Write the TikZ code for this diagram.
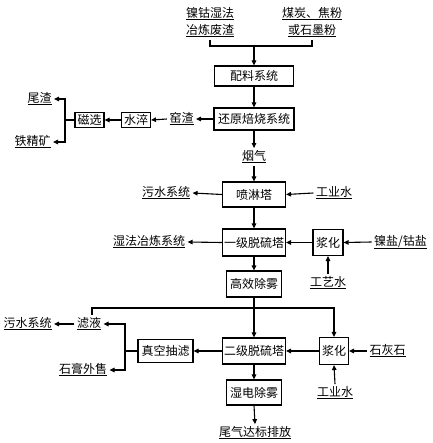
\documentclass[tikz,border=0pt]{standalone}
\usepackage{fontspec}
\setmainfont{Noto Sans CJK SC}
\usetikzlibrary{arrows.meta}
\newcommand\myul[1]{\leavevmode\setbox0=\hbox{#1}\hbox{\rlap{\vrule height -\dimexpr\dp0+0.6pt\relax depth \dimexpr\dp0+1.6pt\relax width \wd0}\box0}}
\begin{document}
\begin{tikzpicture}[x=1pt,y=-1pt,
  font=\fontsize{12}{17}\selectfont,
  line width=1.1pt,
  box/.style={draw,line width=1.1pt,inner sep=0pt,minimum height=#1},
  box/.default=24pt,
  lbl/.style={inner sep=2pt,align=center},
  arr/.style={-{Triangle[length=5pt,width=4.5pt]}}]
\useasboundingbox (0,0) rectangle (432,443);
% boxes
\node[box=20pt,minimum width=79pt] (pl) at (254,76) {配料系统};
\node[box=22pt,minimum width=80pt] (hy) at (254,119) {还原焙烧系统};
\node[box=15pt,minimum width=29pt] (sc) at (136,120) {水淬};
\node[box=15pt,minimum width=29pt] (cx) at (89.5,120) {磁选};
\node[box=25pt,minimum width=63pt] (pt) at (254,194.5) {喷淋塔};
\node[box=27pt,minimum width=63pt] (yj) at (254,242.5) {一级脱硫塔};
\node[box=26pt,minimum width=30pt] (jh1) at (328,242.5) {浆化};
\node[box=26pt,minimum width=55pt] (gx) at (254,284) {高效除雾};
\node[box=26pt,minimum width=63pt] (ej) at (254,351) {二级脱硫塔};
\node[box=27pt,minimum width=29pt] (jh2) at (334,351) {浆化};
\node[box=23pt,minimum width=55pt] (zk) at (165.5,351) {真空抽滤};
\node[box=25pt,minimum width=55pt] (sd) at (254,392.5) {湿电除雾};
% labels
\node[lbl] (t1) at (210,22.5) {\myul{镍钴湿法}\\\myul{冶炼废渣}};
\node[lbl] (t2) at (312,22.5) {\myul{煤炭、焦粉}\\\myul{或石墨粉}};
\node[lbl] (yz) at (181.5,119) {\myul{窑渣}};
\node[lbl] (wz) at (39.5,99) {\myul{尾渣}};
\node[lbl] (tj) at (32.5,142) {\myul{铁精矿}};
\node[lbl] (yq) at (254,157) {\myul{烟气}};
\node[lbl] (ws1) at (166,193) {\myul{污水系统}};
\node[lbl] (gy1) at (334,193) {\myul{工业水}};
\node[lbl] (sf) at (149,242) {\myul{湿法冶炼系统}};
\node[lbl] (ny) at (400.5,242) {\myul{镍盐/钴盐}};
\node[lbl] (gys) at (328,283) {\myul{工艺水}};
\node[lbl] (lv) at (89,324) {\myul{滤液}};
\node[lbl] (ws2) at (27.5,324) {\myul{污水系统}};
\node[lbl] (sg) at (83,370) {\myul{石膏外售}};
\node[lbl] (shs) at (387.5,351) {\myul{石灰石}};
\node[lbl] (gy2) at (335,393) {\myul{工业水}};
\node[lbl] (wq) at (255,433) {\myul{尾气达标排放}};
% connectors
\coordinate (m1) at (254,46);
\draw (t1.south) |- (m1) -| (t2.south);
\draw[arr] (m1) -- (pl.north);
\draw[arr] (pl.south) -- (hy.north);
\draw[arr] (hy.west) -- (yz.east);
\draw[arr] (yz.west) -- (sc.east);
\draw[arr] (sc.west) -- (cx.east);
\coordinate (j1) at (65,120);
\draw (cx.west) -- (j1);
\draw[arr] (j1) |- (wz.east);
\draw[arr] (j1) |- (tj.east);
\draw[arr] (hy.south) -- (yq.north);
\draw[arr] (yq.south) -- (pt.north);
\draw[arr] (pt.west) -- (ws1.east);
\draw[arr] (gy1.west) -- (pt.east);
\draw[arr] (pt.south) -- (yj.north);
\draw[arr] (yj.west) -- (sf.east);
\draw[arr] (jh1.west) -- (yj.east);
\draw[arr] (ny.west) -- (jh1.east);
\draw[arr] (gys.north) -- (jh1.south);
\draw[arr] (yj.south) -- (gx.north);
\coordinate (j2) at (254,308);
\draw[arr] (gx.south) -- (ej.north);
\draw (j2) -| ([xshift=3pt]lv.north);
\draw[arr] (j2) -| (jh2.north);
\draw[arr] (jh2.west) -- (ej.east);
\draw[arr] (shs.west) -- (jh2.east);
\draw[arr] (gy2.north) -- (jh2.south);
\draw[arr] (ej.west) -- (zk.east);
\coordinate (j3) at (125,351);
\draw (zk.west) -- (j3);
\draw[arr] (j3) |- (lv.east);
\draw[arr] (j3) |- (sg.east);
\draw[arr] (lv.west) -- (ws2.east);
\draw[arr] (ej.south) -- (sd.north);
\draw[arr] (sd.south) -- (wq.north);
\end{tikzpicture}
\end{document}
